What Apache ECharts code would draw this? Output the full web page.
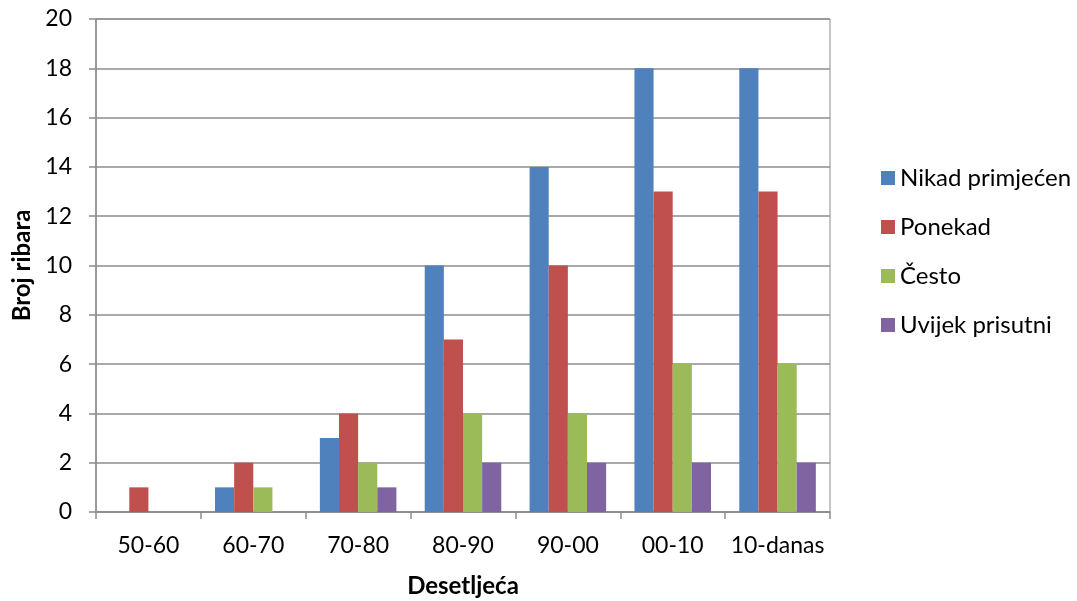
<!DOCTYPE html>
<html><head><meta charset="utf-8">
<script src="https://cdn.jsdelivr.net/npm/echarts@6/dist/echarts.min.js"></script>
<style>html,body{margin:0;padding:0;background:#fff}#c{width:1077px;height:601px}</style>
</head><body><div id="c"></div>
<script>
const categories = ['50-60','60-70','70-80','80-90','90-00','00-10','10-danas'];
const nikad = [0,1,3,10,14,18,18];
const ponekad = [1,2,4,7,10,13,13];
const cesto = [0,1,2,4,4,6,6];
const uvijek = [0,0,1,2,2,2,2];
const seriesNames = ['Nikad primjećen','Ponekad','Često','Uvijek prisutni'];
const colors = ['#4F81BD','#C0504D','#9BBB59','#8064A2'];
const FONT = 'Lato';
const chart = echarts.init(document.getElementById('c'));
const mk = (name, data, color) => ({name, type:'bar', data, barGap:0, barCategoryGap:'27%', itemStyle:{color}});
chart.setOption({
  animation:false,
  textStyle:{fontFamily:FONT},
  grid:{left:96, right:247, top:19, bottom:89, containLabel:false, outerBoundsMode:'none',
    show:true, borderColor:'#8c8c8c', borderWidth:1},
  legend:{orient:'vertical', left:876, top:161, itemWidth:14, itemHeight:14, itemGap:25,
    textStyle:{fontFamily:FONT, fontSize:24, color:'#000', lineHeight:24},
    data:seriesNames, icon:'rect'},
  xAxis:{type:'category', data:categories,
    name:'Desetljeća', nameLocation:'middle', nameGap:62, nameMoveOverlap:false,
    nameTextStyle:{fontFamily:FONT, fontSize:24, fontWeight:'bold', color:'#000'},
    axisLine:{lineStyle:{color:'#8c8c8c', width:1.5}},
    axisTick:{show:true, length:7, lineStyle:{color:'#8c8c8c', width:1.5}},
    axisLabel:{fontFamily:FONT, fontSize:23, color:'#000', margin:22, interval:0}},
  yAxis:{type:'value', min:0, max:20, interval:2,
    name:'Broj ribara', nameLocation:'middle', nameGap:62, nameRotate:90, nameMoveOverlap:false,
    nameTextStyle:{fontFamily:FONT, fontSize:24, fontWeight:'bold', color:'#000'},
    axisLine:{show:true, lineStyle:{color:'#8c8c8c', width:1.5}},
    axisTick:{show:true, length:7, lineStyle:{color:'#8c8c8c', width:1.5}},
    axisLabel:{fontFamily:FONT, fontSize:23, color:'#000', margin:24},
    splitLine:{lineStyle:{color:'#8c8c8c', width:1.5}}},
  series:[mk(seriesNames[0],nikad,colors[0]),mk(seriesNames[1],ponekad,colors[1]),mk(seriesNames[2],cesto,colors[2]),mk(seriesNames[3],uvijek,colors[3])]
});
</script></body></html>
